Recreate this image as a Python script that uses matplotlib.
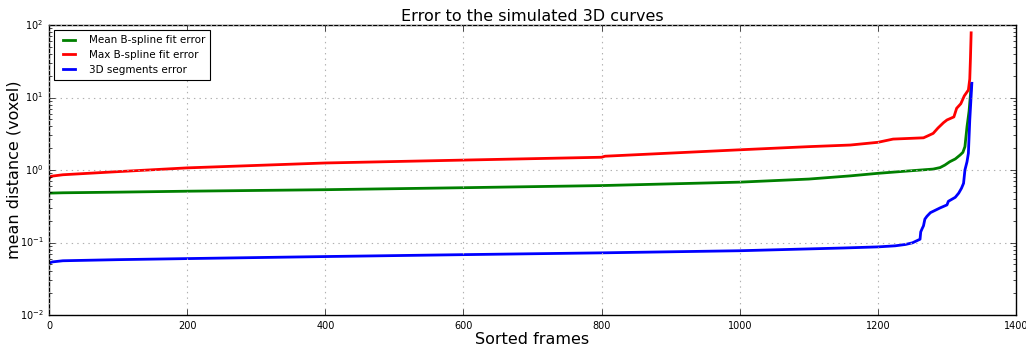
import matplotlib
matplotlib.use("Agg")
import matplotlib.pyplot as plt

plt.style.use("classic")

title = "Error to the simulated 3D curves"
xlabel = "Sorted frames"
ylabel = "mean distance (voxel)"

mean_frames = [0, 20, 100, 200, 400, 600, 800, 1000, 1100, 1160, 1200, 1250, 1280, 1290, 1297, 1304, 1312, 1319, 1323, 1326, 1329, 1332, 1334, 1335]
mean_vals = [0.48, 0.485, 0.495, 0.51, 0.535, 0.57, 0.61, 0.68, 0.75, 0.83, 0.90, 0.98, 1.03, 1.08, 1.17, 1.30, 1.42, 1.61, 1.75, 2.1, 3.96, 6.5, 11.0, 15.0]

max_frames = [0, 3, 20, 100, 200, 400, 600, 800, 805, 1000, 1100, 1160, 1200, 1222, 1266, 1272, 1280, 1287, 1295, 1300, 1310, 1314, 1320, 1325, 1331, 1333, 1334, 1335]
max_vals = [0.76, 0.82, 0.86, 0.95, 1.07, 1.25, 1.37, 1.50, 1.55, 1.9, 2.1, 2.21, 2.41, 2.67, 2.78, 2.95, 3.2, 3.8, 4.5, 4.9, 5.4, 7.1, 8.2, 10.5, 12.7, 18.0, 35.0, 78.0]

seg_frames = [0, 5, 20, 100, 200, 400, 600, 800, 1000, 1150, 1200, 1225, 1240, 1250, 1261, 1262, 1264, 1266, 1268, 1271, 1276, 1290, 1300, 1302, 1312, 1317, 1321, 1324, 1326, 1329, 1331, 1333, 1336]
seg_vals = [0.052, 0.054, 0.056, 0.058, 0.060, 0.064, 0.068, 0.072, 0.077, 0.084, 0.087, 0.090, 0.094, 0.099, 0.111, 0.14, 0.155, 0.17, 0.21, 0.23, 0.258, 0.30, 0.33, 0.37, 0.42, 0.48, 0.56, 0.655, 1.0, 1.3, 1.70, 4.9, 15.7]

fig = plt.figure(figsize=(10.26, 3.44), dpi=100, facecolor="white")
ax = fig.add_axes([0.0478, 0.0843, 0.9425, 0.8430])
ax.plot(mean_frames, mean_vals, color="green", lw=2, label="Mean B-spline fit error")
ax.plot(max_frames, max_vals, color="red", lw=2, label="Max B-spline fit error")
ax.plot(seg_frames, seg_vals, color="blue", lw=2, label="3D segments error")
ax.set_yscale("log")
ax.set_ylim(1e-2, 1e2)
ax.set_xlim(0, 1400)
ax.grid(True, color="#b0b0b0", linestyle=":", linewidth=0.8)
ax.tick_params(labelsize=7)
ax.set_title(title, fontsize=11.5, pad=3)
ax.set_xlabel(xlabel, fontsize=11.5, labelpad=1)
ax.set_ylabel(ylabel, fontsize=11.5, labelpad=-1)
leg = ax.legend(loc="upper left", fontsize=7.5, frameon=True, handlelength=1.8,
                handletextpad=1.0, borderpad=0.5, labelspacing=0.45)
leg.get_frame().set_linewidth(0.8)
fig.savefig("out.png", dpi=100, facecolor="white")
